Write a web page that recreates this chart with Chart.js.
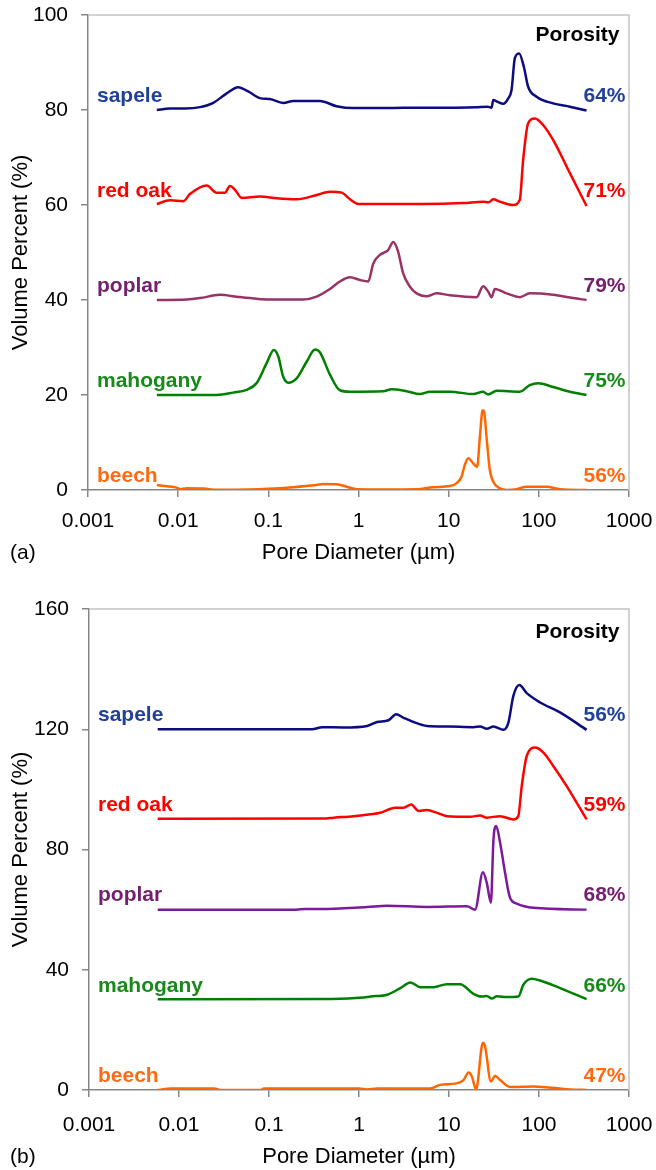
<!DOCTYPE html>
<html>
<head>
<meta charset="utf-8">
<title>Pore size distribution</title>
<script src="https://cdn.jsdelivr.net/npm/chart.js@4.4.0/dist/chart.umd.min.js"></script>
<style>
  body { margin: 0; background: #fff; }
  .panel { position: absolute; left: 0; }
  #chartA { top: 0; }
  #chartB { top: 590px; }
</style>
</head>
<body>
<canvas id="chartA" class="panel" width="656" height="580"></canvas>
<canvas id="chartB" class="panel" width="656" height="580"></canvas>
<script>
// Species and their stacking offsets (each curve is shifted up by its offset)
const species = ['sapele', 'red oak', 'poplar', 'mahogany', 'beech'];
const offsetsA = [80, 60, 40, 20, 0];
const offsetsB = [120, 90, 60, 30, 0];
const porosityA = ['64%', '71%', '79%', '75%', '56%'];
const porosityB = ['56%', '59%', '68%', '66%', '47%'];

const xTicks = [0.001, 0.01, 0.1, 1, 10, 100, 1000];
const xTickLabels = ['0.001', '0.01', '0.1', '1', '10', '100', '1000'];
const yTicksA = [0, 20, 40, 60, 80, 100];
const yTicksB = [0, 40, 80, 120, 160];

// [pore diameter (um), volume percent incl. offset]
const sapeleA = [[0.0058,80.0],[0.008,80.3],[0.012,80.3],[0.0175,80.6],[0.0245,81.5],[0.0345,83.5],[0.0463,84.8],[0.0598,83.9],[0.0807,82.5],[0.104,82.3],[0.146,81.5],[0.189,81.9],[0.373,81.9],[0.571,80.8],[0.873,80.4],[2,80.4],[5,80.5],[10,80.5],[20,80.6],[27,80.7],[29.9,80.5],[31.2,82.1],[35,81.7],[40.2,81.3],[46,82.5],[49.8,84.2],[54.2,90.9],[60.5,91.9],[68.2,89.1],[76.1,84.9],[94.4,82.8],[144,81.4],[221,80.7],[338,79.9]];
const redOakA = [[0.0058,60.2],[0.0081,61.0],[0.0114,60.8],[0.0135,62.3],[0.0207,64.1],[0.0267,62.6],[0.033,62.6],[0.0375,64.0],[0.0427,63.2],[0.0506,61.5],[0.0807,61.8],[0.124,61.4],[0.206,61.2],[0.343,62.1],[0.482,62.8],[0.65,62.6],[0.804,61.2],[0.993,60.2],[5,60.2],[14.5,60.4],[24.1,60.7],[28,60.6],[31.2,61.2],[37,60.7],[51.9,60.0],[61.5,61.1],[67,69.5],[76.1,77.2],[90.3,78.2],[112,76.8],[144,73.7],[221,66.7],[338,59.8]];
const poplarA = [[0.0058,40.0],[0.0124,40.1],[0.0175,40.4],[0.029,41.1],[0.0446,40.7],[0.0625,40.4],[0.0957,40.1],[0.244,40.1],[0.343,40.7],[0.482,42.3],[0.622,43.9],[0.804,44.8],[1.04,44.2],[1.28,43.9],[1.46,47.7],[1.73,49.5],[2.13,50.5],[2.43,52.2],[2.75,50.2],[3.13,45.6],[3.72,42.8],[4.41,41.4],[5.69,40.8],[7.34,41.4],[10.3,41.0],[20.4,40.6],[24.1,42.9],[27.4,41.8],[29.9,40.6],[32.5,42.3],[43.8,41.4],[61.5,40.6],[79.4,41.4],[144,41.1],[240,40.4],[338,40.0]];
const mahoganyA = [[0.0058,20.0],[0.0267,20.0],[0.0408,20.5],[0.0574,21.1],[0.0741,22.5],[0.0957,26.7],[0.115,29.5],[0.129,28.1],[0.146,23.9],[0.166,22.6],[0.206,23.5],[0.266,27.0],[0.329,29.6],[0.373,29.0],[0.482,24.3],[0.622,21.0],[0.804,20.7],[1.88,20.8],[2.33,21.2],[3.41,20.8],[4.8,20.2],[6.19,20.7],[10.3,20.7],[18.7,20.2],[24.1,20.7],[27.4,20.1],[34,20.9],[61.5,20.7],[79.4,22.1],[98.2,22.5],[144,21.7],[221,20.7],[338,20.0]];
const beechA = [[0.0058,1.05],[0.0075,0.8],[0.0096,0.5],[0.0105,0.15],[0.0124,0.35],[0.019,0.3],[0.0267,0.05],[0.0625,0.1],[0.189,0.6],[0.343,1.05],[0.406,1.25],[0.571,1.2],[0.738,0.7],[0.953,0.15],[1.88,0.1],[4.41,0.15],[6.73,0.6],[10.3,0.84],[12.2,1.4],[13.9,2.8],[15.1,5.3],[16.5,6.7],[18.7,5.6],[20.7,4.9],[22.2,11.2],[23.8,16.8],[24.7,16.5],[26.3,11.2],[28.6,4.2],[31.2,1.75],[37,0.35],[43.8,0],[56.6,0.15],[73.1,0.7],[122,0.7],[171,0.15],[338,0]];

const sapeleB = [[0.0058,120.0],[0.3,120.0],[0.39,120.7],[0.676,120.6],[1.23,121.1],[1.59,122.4],[2.13,123.0],[2.58,125.0],[3.13,123.8],[4.04,122.4],[5.69,121.1],[10,120.9],[18.7,120.7],[22.2,120.9],[26.3,120.2],[31.2,120.9],[40.2,119.8],[45.7,122.2],[51.9,131.1],[60.5,134.7],[73.1,132.0],[103,128.9],[171,125.6],[338,119.8]];
const redOakB = [[0.0058,90.2],[0.4,90.3],[0.525,90.6],[0.873,91.1],[1.34,91.7],[1.73,92.2],[2.53,93.9],[3.13,93.9],[3.81,95.0],[4.59,92.8],[5.69,93.1],[7.34,92.2],[9.48,91.1],[17.2,90.9],[22.2,91.3],[26.3,90.6],[37,91.1],[51.9,90.0],[58.9,91.1],[64.3,101.1],[73.1,111.1],[90.3,113.9],[112,112.2],[144,107.8],[203,101.1],[338,90.0]];
const poplarB = [[0.0058,60.0],[0.2,60.0],[0.25,60.2],[0.373,60.2],[1.23,60.9],[2.05,61.3],[5.69,60.9],[15.8,61.1],[19.5,60.0],[23.8,72.4],[26.3,68.9],[29.2,62.3],[31.2,83.3],[33.4,87.8],[37,82.2],[42,72.2],[47.7,63.9],[56.6,62.0],[86.5,60.6],[338,60.0]];
const mahoganyB = [[0.0058,30.2],[0.5,30.3],[1.13,30.8],[1.34,31.1],[2.05,31.7],[2.88,33.9],[3.72,35.8],[4.8,34.2],[6.73,34.2],[9.48,35.2],[13.3,35.2],[18.7,32.0],[23.1,31.1],[26.3,31.3],[29.9,30.4],[34,31.2],[43.8,30.9],[58.9,31.1],[67,35.0],[83,37.0],[103,36.4],[171,33.9],[338,30.2]];
const beechB = [[0.0058,0.0],[0.0081,0.5],[0.0245,0.5],[0.029,0.0],[0.0807,0.0],[0.0879,0.5],[1.0,0.5],[1.23,0.2],[1.59,0.5],[6.19,0.5],[7.98,1.7],[12.2,2.2],[14.5,3.3],[16.5,5.8],[17.9,4.6],[20.0,0.2],[23.8,15.7],[25.2,14.4],[29.2,2.8],[32.5,4.7],[37,3.3],[47.7,1.0],[86.5,1.2],[221,0.2],[338,0.0]];

const FONT = "'Liberation Sans', Arial, sans-serif";
const AXIS_GREY = '#868686';

const lineColorsA = ['#0c0c80', '#ff0000', '#993366', '#008000', '#ff6600'];
const lineColorsB = ['#0c0c80', '#ff0000', '#7d1a9c', '#008000', '#ff6600'];
const labelColors = ['#21409a', '#ff0000', '#73206f', '#178a1a', '#ff6a14'];

Chart.defaults.font.family = FONT;
Chart.defaults.color = '#000';

// species names on the left, porosity on the right, panel letter bottom-left
const annotations = {
  id: 'annotations',
  beforeDatasetsDraw(chart) {
    const { ctx, chartArea: a } = chart;
    ctx.save();
    ctx.strokeStyle = '#c4c4c4';
    ctx.lineWidth = 1.5;
    ctx.beginPath();
    ctx.moveTo(a.left, a.top);
    ctx.lineTo(a.right, a.top);
    ctx.lineTo(a.right, a.bottom);
    ctx.stroke();
    ctx.restore();
  },
  afterDraw(chart, args, opts) {
    const { ctx, chartArea: a } = chart;
    const y = chart.scales.y;
    ctx.save();
    ctx.font = 'bold 21px ' + FONT;
    ctx.textBaseline = 'middle';
    opts.offsets.forEach((off, i) => {
      const py = y.getPixelForValue(off) - 14;
      ctx.fillStyle = labelColors[i];
      ctx.textAlign = 'left';
      ctx.fillText(species[i], a.left + 9, py);
      ctx.textAlign = 'right';
      ctx.fillText(opts.porosity[i], a.right - 3.5, py);
    });
    ctx.fillStyle = '#000';
    ctx.textAlign = 'right';
    ctx.fillText('Porosity', a.right - 9.5, a.top + opts.headerTop);
    ctx.font = '21px ' + FONT;
    ctx.textAlign = 'left';
    ctx.fillText(opts.panel, 10, opts.panelY);
    ctx.restore();
  }
};

function makeDatasets(series, colors) {
  return series.map((pts, i) => ({
    label: species[i],
    data: pts.map(p => ({ x: p[0], y: p[1] })),
    borderColor: colors[i],
    borderWidth: 2.5,
    pointRadius: 0,
    fill: false,
    cubicInterpolationMode: 'monotone'
  }));
}

// the plot box is set by layout padding alone, not by label overhang
function noOverhang(s) {
  s.paddingLeft = 0;
  s.paddingRight = 0;
  s.paddingTop = 0;
  s.paddingBottom = 0;
}

function makeChart(id, cfg) {
  return new Chart(document.getElementById(id), {
    type: 'line',
    data: { datasets: makeDatasets(cfg.series, cfg.colors) },
    options: {
      responsive: false,
      animation: false,
      layout: { padding: { top: cfg.padTop, right: 27, bottom: cfg.padBottom, left: 0 } },
      plugins: {
        legend: { display: false },
        tooltip: { enabled: false },
        annotations: {
          offsets: cfg.offsets,
          porosity: cfg.porosity,
          panel: cfg.panel,
          panelY: cfg.panelY,
          headerTop: cfg.headerTop
        }
      },
      scales: {
        x: {
          type: 'logarithmic',
          min: 0.001,
          max: 1000,
          afterBuildTicks: s => { s.ticks = xTicks.map(v => ({ value: v })); },
          afterFit: s => { s.height = cfg.xHeight; noOverhang(s); },
          ticks: {
            autoSkip: false,
            maxRotation: 0,
            padding: cfg.xTickPad,
            font: { size: 21 },
            callback: v => xTickLabels[xTicks.indexOf(v)]
          },
          grid: { drawOnChartArea: false, tickLength: 7, color: AXIS_GREY, lineWidth: 1.5 },
          border: { color: AXIS_GREY, width: 1.5 },
          title: {
            display: true,
            text: 'Pore Diameter (\u00b5m)',
            font: { size: 22 },
            padding: { top: 0, bottom: 0 }
          }
        },
        y: {
          min: cfg.yTicks[0],
          max: cfg.yTicks[cfg.yTicks.length - 1],
          afterBuildTicks: s => { s.ticks = cfg.yTicks.map(v => ({ value: v })); },
          afterFit: s => { s.width = cfg.yWidth; noOverhang(s); },
          ticks: { padding: 13, font: { size: 21 } },
          grid: { drawOnChartArea: false, tickLength: 7, color: AXIS_GREY, lineWidth: 1.5 },
          border: { color: AXIS_GREY, width: 1.5 },
          title: {
            display: true,
            text: 'Volume Percent (%)',
            font: { size: 22 },
            padding: { top: 8, bottom: 0 }
          }
        }
      }
    },
    plugins: [annotations]
  });
}

makeChart('chartA', {
  series: [sapeleA, redOakA, poplarA, mahoganyA, beechA],
  colors: lineColorsA,
  offsets: offsetsA,
  porosity: porosityA,
  yTicks: yTicksA,
  panel: '(a)',
  panelY: 553,
  headerTop: 20,
  padTop: 15,
  padBottom: 14,
  xHeight: 76,
  xTickPad: 12,
  yWidth: 88
});

makeChart('chartB', {
  series: [sapeleB, redOakB, poplarB, mahoganyB, beechB],
  colors: lineColorsB,
  offsets: offsetsB,
  porosity: porosityB,
  yTicks: yTicksB,
  panel: '(b)',
  panelY: 567,
  headerTop: 23,
  padTop: 19,
  padBottom: 0,
  xHeight: 80,
  xTickPad: 16,
  yWidth: 89
});
</script>
</body>
</html>
